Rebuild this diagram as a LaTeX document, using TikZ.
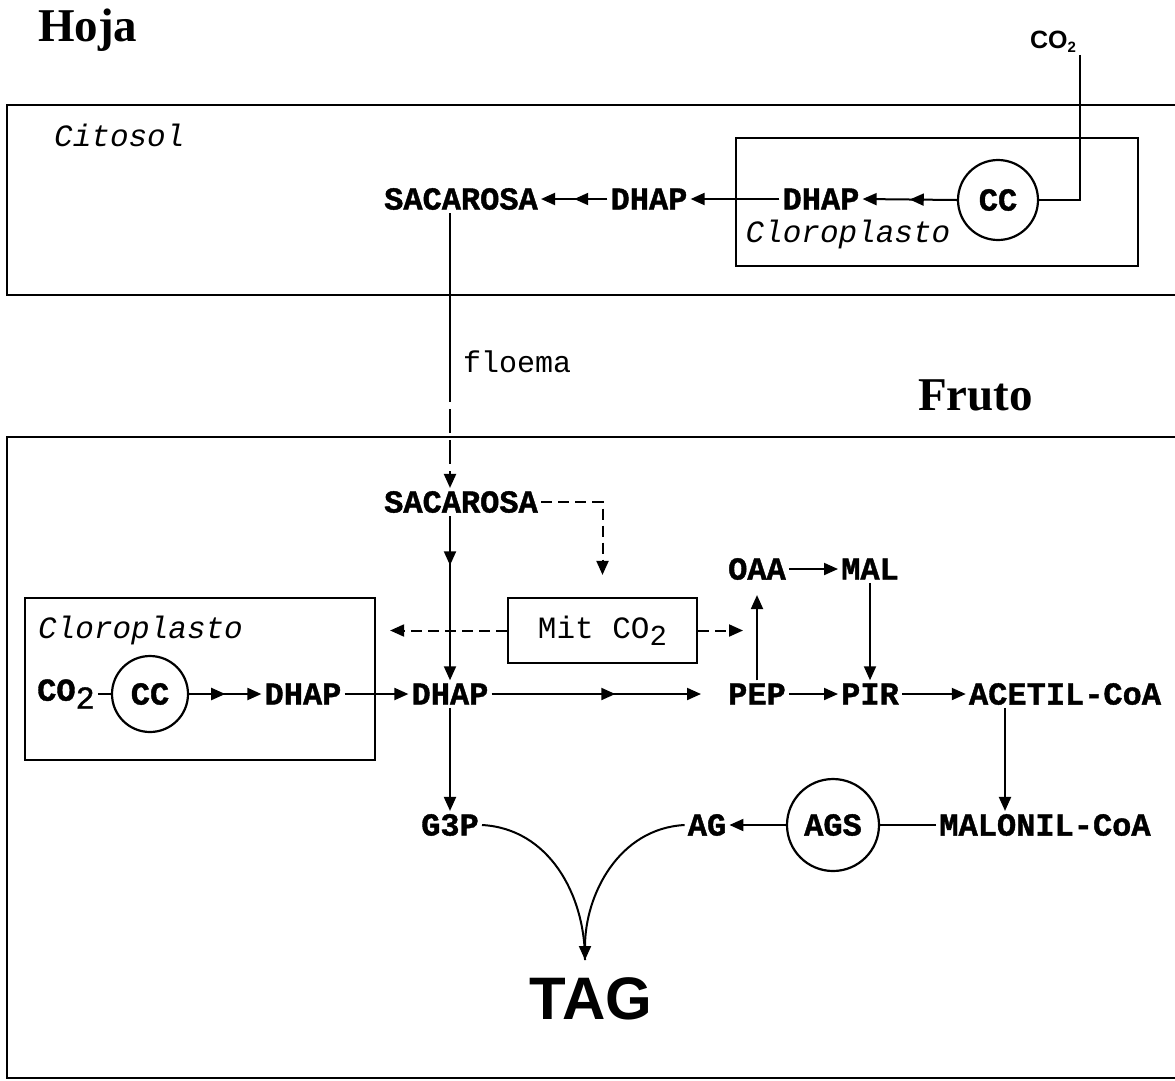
\documentclass[tikz,border=0pt]{standalone}
\usepackage{fontspec}
\setmonofont{Liberation Mono}
\newfontfamily\molfont{Liberation Mono}[FakeBold=1.2]
\newfontfamily\serifhead{Liberation Serif}
\newfontfamily\sanshead{Liberation Sans}
\usetikzlibrary{arrows.meta, decorations.markings}

\begin{document}
\begin{tikzpicture}[x=1pt, y=-1pt,
  ln/.style={line width=2pt},
  arr/.style={ln, -{Triangle[length=14pt, width=12pt]}},
  midarr/.style={postaction={decorate}, decoration={markings,
      mark=at position #1 with {\arrow{Triangle[length=14pt, width=12pt]}}}},
  dsh/.style={dash pattern=on 11pt off 6pt},
  mol/.style={font=\molfont\bfseries\fontsize{32}{32}\selectfont, inner sep=3pt},
  enz/.style={mol, circle, draw, line width=2.2pt, minimum size=#1},
  cbox/.style={draw, line width=2.2pt, inner sep=0pt},
  zone/.style={font=\ttfamily\itshape\fontsize{31}{31}\selectfont, inner sep=0pt},
  head/.style={font=\serifhead\bfseries\fontsize{47}{47}\selectfont, inner sep=0pt}
]
\useasboundingbox (0,0) rectangle (1175,1080);
\clip (0,0) rectangle (1175,1080);

% ---------------------------------------------- hoja
\node[head, anchor=base west] (hoja) at (38,41) {Hoja};
\node[cbox, minimum width=1193, minimum height=190] (citbox) at (603.5,200) {};
\node[zone, anchor=west] (citosol) at (54,135) {Citosol};
\node[cbox, minimum width=402, minimum height=128] (clorHbox) at (937,202) {};
\node[zone] (clorH) at (848,234) {Cloroplasto};

\node[font=\sanshead\bfseries\fontsize{25}{25}\selectfont, inner sep=2pt] (co2H) at (1053,42)
  {CO\raisebox{-4pt}{\fontsize{15}{15}\selectfont 2}};
\node[enz=80] (ccH) at (998,200) {CC};
\node[mol] (dhapK) at (821,199) {DHAP};
\node[mol] (dhapC) at (649,199) {DHAP};
\node[mol] (sacH) at (461,199) {SACAROSA};

\draw[ln] ([xshift=27pt]co2H.south) |- (ccH.east);
\draw[arr, midarr=0.5] (ccH.west) -- (dhapK.east);
\draw[arr] (dhapK.west) -- (dhapC.east);
\draw[arr, midarr=0.5] (dhapC.west) -- (sacH.east);

% ---------------------------------------------- floema
\node[font=\ttfamily\fontsize{30}{30}\selectfont, anchor=west, inner sep=0pt] (floema) at (463,362) {floema};
\coordinate (flbrk) at (450,378);

% ---------------------------------------------- fruto
\node[head, anchor=base west] (fruto) at (918,410) {Fruto};
\node[cbox, minimum width=1193, minimum height=641] (frbox) at (603.5,757.5) {};
\node[cbox, minimum width=350, minimum height=162] (clorFbox) at (200,679) {};
\node[zone, anchor=west] (clorF) at (38,630) {Cloroplasto};

\node[mol] (sacF) at (461,502) {SACAROSA};
\node[cbox, minimum width=189, minimum height=65, font=\ttfamily\fontsize{31}{31}\selectfont]
  (mit) at (602.5,630.5) {Mit CO\raisebox{-7pt}{\fontsize{29}{29}\selectfont 2}};

\node[mol, anchor=west] (co2F) at (34,694) {CO\raisebox{-8pt}{\mdseries 2}};
\node[enz=76] (ccF) at (150,694) {CC};
\node[mol] (dhapK2) at (303,694) {DHAP};
\node[mol] (dhapM) at (450,694) {DHAP};
\node[mol] (pep) at (757,694) {PEP};
\node[mol] (pir) at (870,694) {PIR};
\node[mol] (acetil) at (1065,694) {ACETIL-CoA};
\node[mol] (oaa) at (757,569) {OAA};
\node[mol] (mal) at (870,569) {MAL};
\node[mol] (g3p) at (450,825) {G3P};
\node[mol] (ag) at (707,825) {AG};
\node[enz=92] (ags) at (833,825) {AGS};
\node[mol] (malonil) at (1045,825) {MALONIL-CoA};
\node[font=\sanshead\bfseries\fontsize{60}{60}\selectfont, inner sep=2pt] (tag) at (591,999) {TAG};
\coordinate (tagtip) at (585,960);

\draw[ln] (sacH.south -| dhapM.north) -- (flbrk);
\draw[arr, dash pattern=on 24pt off 7pt] (flbrk) -- (sacF.north -| dhapM.north);
\draw[arr, dsh, shorten >=22pt] (sacF.east) -| (mit.north);
\draw[arr, midarr=0.3] (sacF.south -| dhapM.north) -- (dhapM.north);
\draw[arr, dsh, shorten >=14pt] (mit.west) -- (mit.west -| clorFbox.east);
\draw[arr, dsh, shorten >=14pt] (mit.east) -- (mit.east -| pep.north);

\draw[ln] (co2F.east) -- (ccF.west);
\draw[arr, midarr=0.5] (ccF.east) -- (dhapK2.west);
\draw[arr] (dhapK2.east) -- (dhapM.west);
\draw[arr, midarr=0.53, shorten >=24pt] (dhapM.east) -- (pep.west);
\draw[arr] (pep.east) -- (pir.west);
\draw[arr] (pir.east) -- (acetil.west);
\draw[arr, shorten >=12pt] (pep.north) -- (oaa.south);
\draw[arr] (oaa.east) -- (mal.west);
\draw[arr] (mal.south) -- (pir.north);
\draw[arr] ([xshift=-60pt]acetil.south) -- ([xshift=-60pt]acetil.south |- malonil.north);
\draw[arr] (dhapM.south) -- (g3p.north);

\draw[ln] (malonil.west) -- (ags.east);
\draw[arr] (ags.west) -- (ag.east);
\draw[ln] (g3p.east) to[out=-3, in=90] (tagtip);
\draw[arr] (ag.west) to[out=183, in=90] (tagtip);
\end{tikzpicture}
\end{document}
